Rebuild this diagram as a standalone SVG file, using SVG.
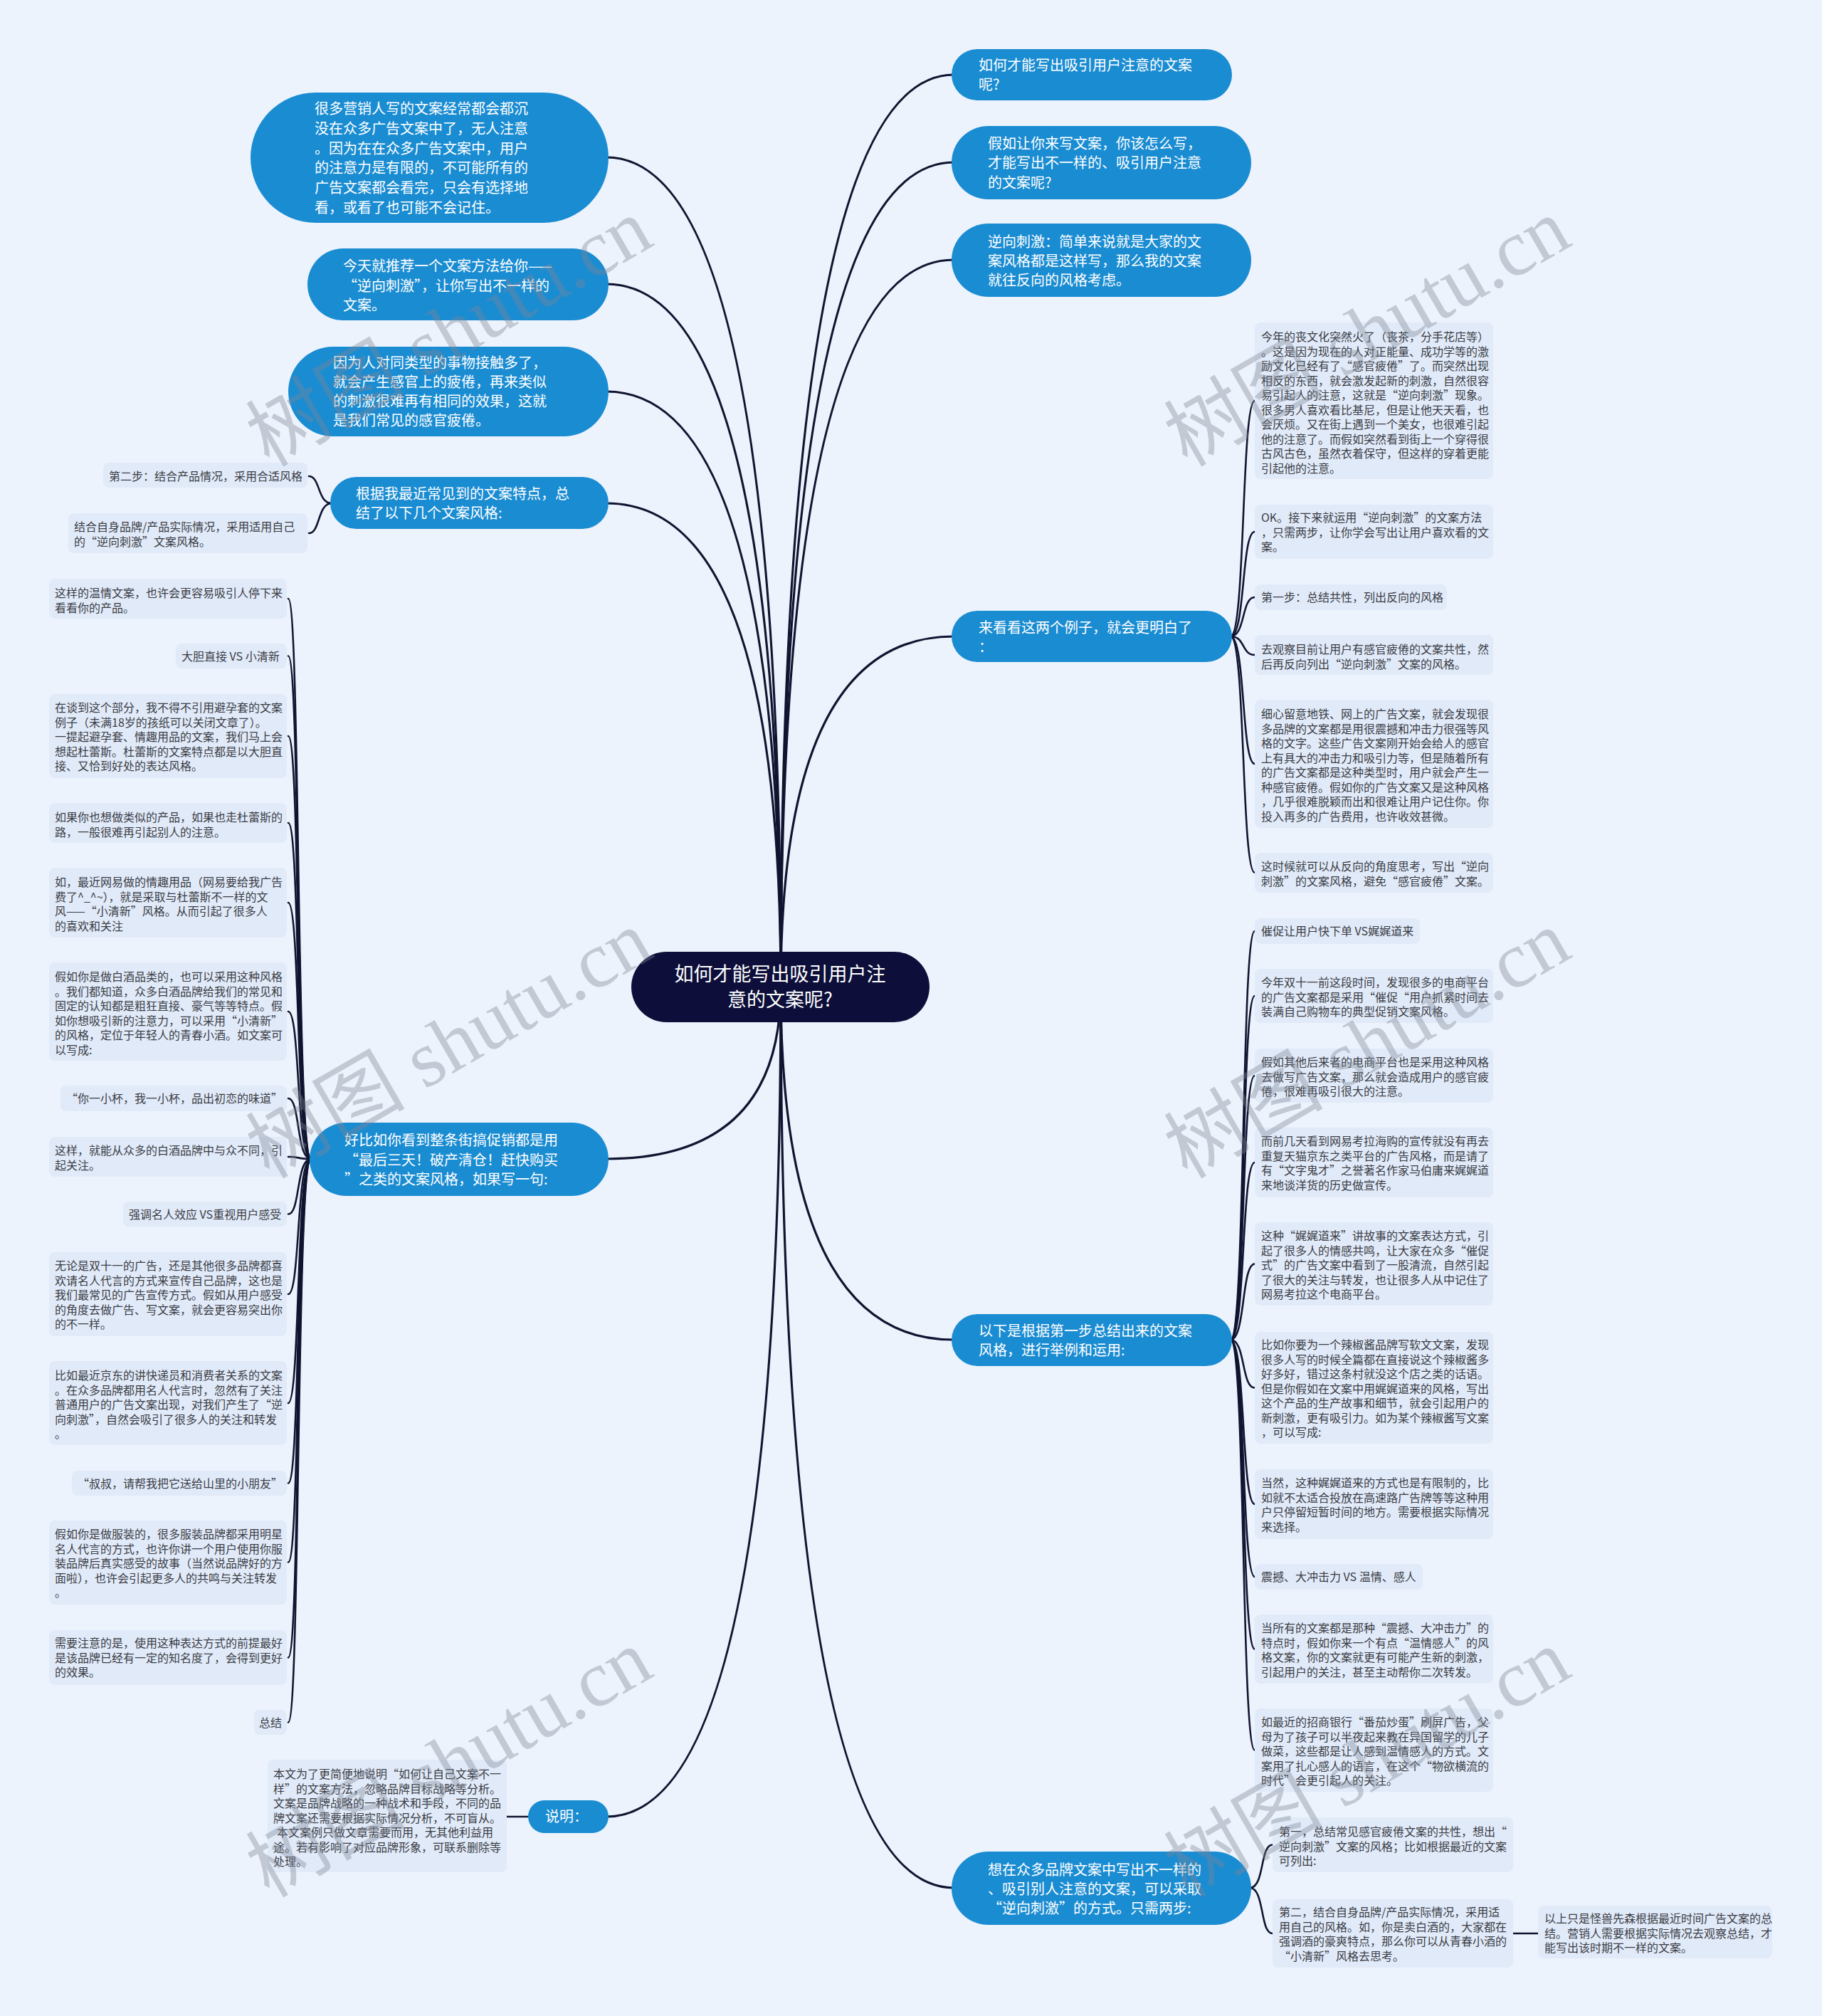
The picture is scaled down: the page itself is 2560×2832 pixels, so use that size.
<svg xmlns="http://www.w3.org/2000/svg" width="2560" height="2832" viewBox="0 0 2560 2832">
<style>
.bg{fill:#edf3fc}
.leaf{fill:#e1eaf9}
.lt{font-family:"Noto Sans CJK SC","Noto Sans",sans-serif;font-size:16px;fill:#3a3d44}
.mn{fill:#1a8cd2}
.mt{font-family:"Noto Sans CJK SC","Noto Sans",sans-serif;font-size:20px;fill:#ffffff}
.cn{fill:#0d0f3a}
.ct{font-family:"Noto Sans CJK SC","Noto Sans",sans-serif;font-size:27px;fill:#ffffff}
.c1{fill:none;stroke:#111430;stroke-width:3.2;stroke-linecap:round}
.c2{fill:none;stroke:#111430;stroke-width:2.6;stroke-linecap:round}
.wm{font-family:"Liberation Serif","Noto Sans CJK SC",serif;font-size:112px;fill:#7f8793;fill-opacity:0.38}
</style>
<rect class="bg" x="0" y="0" width="2560" height="2832"/>

<g id="connectors">
<path class="c1" d="M1097 1387 Q1097 221 852 221"/>
<path class="c1" d="M1097 1387 Q1097 399 852 399"/>
<path class="c1" d="M1097 1387 Q1097 550 852 550"/>
<path class="c1" d="M1097 1387 Q1097 707 852 707"/>
<path class="c1" d="M1097 1387 Q1097 1628 852 1628"/>
<path class="c1" d="M1097 1387 Q1097 2552 852 2552"/>
<path class="c1" d="M1097 1387 Q1097 105 1340 105"/>
<path class="c1" d="M1097 1387 Q1097 228 1340 228"/>
<path class="c1" d="M1097 1387 Q1097 365 1340 365"/>
<path class="c1" d="M1097 1387 Q1097 894 1340 894"/>
<path class="c1" d="M1097 1387 Q1097 1882 1340 1882"/>
<path class="c1" d="M1097 1387 Q1097 2652 1340 2652"/>
<path class="c2" d="M466 707 C446 707 450 669 434 669"/>
<path class="c2" d="M466 707 C446 707 450 749 434 749"/>
<path class="c2" d="M437 1628 C416 1628 422 841 405 841"/>
<path class="c2" d="M437 1628 C416 1628 422 921.5 405 921.5"/>
<path class="c2" d="M437 1628 C416 1628 422 1034 405 1034"/>
<path class="c2" d="M437 1628 C416 1628 422 1156 405 1156"/>
<path class="c2" d="M437 1628 C416 1628 422 1268 405 1268"/>
<path class="c2" d="M437 1628 C416 1628 422 1421 405 1421"/>
<path class="c2" d="M437 1628 C416 1628 422 1543 405 1543"/>
<path class="c2" d="M437 1628 C416 1628 422 1625 405 1625"/>
<path class="c2" d="M437 1628 C416 1628 422 1705.5 405 1705.5"/>
<path class="c2" d="M437 1628 C416 1628 422 1818 405 1818"/>
<path class="c2" d="M437 1628 C416 1628 422 1971 405 1971"/>
<path class="c2" d="M437 1628 C416 1628 422 2083.5 405 2083.5"/>
<path class="c2" d="M437 1628 C416 1628 422 2194.5 405 2194.5"/>
<path class="c2" d="M437 1628 C416 1628 422 2328.5 405 2328.5"/>
<path class="c2" d="M437 1628 C416 1628 422 2419.5 405 2419.5"/>
<path class="c2" d="M742 2552 L712 2552"/>
<path class="c2" d="M1729 894 C1750 894 1744 563 1763 563"/>
<path class="c2" d="M1729 894 C1750 894 1744 747 1763 747"/>
<path class="c2" d="M1729 894 C1750 894 1744 839 1763 839"/>
<path class="c2" d="M1729 894 C1750 894 1744 920 1763 920"/>
<path class="c2" d="M1729 894 C1750 894 1744 1073 1763 1073"/>
<path class="c2" d="M1729 894 C1750 894 1744 1226 1763 1226"/>
<path class="c2" d="M1729 1882 C1750 1882 1744 1308 1763 1308"/>
<path class="c2" d="M1729 1882 C1750 1882 1744 1399 1763 1399"/>
<path class="c2" d="M1729 1882 C1750 1882 1744 1511 1763 1511"/>
<path class="c2" d="M1729 1882 C1750 1882 1744 1633 1763 1633"/>
<path class="c2" d="M1729 1882 C1750 1882 1744 1775.5 1763 1775.5"/>
<path class="c2" d="M1729 1882 C1750 1882 1744 1949.5 1763 1949.5"/>
<path class="c2" d="M1729 1882 C1750 1882 1744 2113 1763 2113"/>
<path class="c2" d="M1729 1882 C1750 1882 1744 2215 1763 2215"/>
<path class="c2" d="M1729 1882 C1750 1882 1744 2316.5 1763 2316.5"/>
<path class="c2" d="M1729 1882 C1750 1882 1744 2458.5 1763 2458.5"/>
<path class="c2" d="M1756 2652 C1777 2652 1770 2591.5 1788 2591.5"/>
<path class="c2" d="M1756 2652 C1777 2652 1770 2716 1788 2716"/>
<path class="c2" d="M2126 2716 L2161 2716"/>
</g>

<g id="center">
<rect class="cn" x="887" y="1337" width="419" height="99" rx="49.5"/>
<text class="ct" text-anchor="middle"><tspan x="1096" y="1378">如何才能写出吸引用户注</tspan><tspan x="1096" y="1414">意的文案呢?</tspan></text>
</g>

<g id="n1">
<rect class="mn" x="352" y="130" width="503" height="183" rx="91.5"/>
<text class="mt"><tspan x="442" y="160">很多营销人写的文案经常都会都沉</tspan><tspan x="442" y="188">没在众多广告文案中了，无人注意</tspan><tspan x="442" y="215.5">。因为在在众多广告文案中，用户</tspan><tspan x="442" y="243">的注意力是有限的，不可能所有的</tspan><tspan x="442" y="271">广告文案都会看完，只会有选择地</tspan><tspan x="442" y="298.5">看，或看了也可能不会记住。</tspan></text>
</g>
<g id="n2">
<rect class="mn" x="432" y="349" width="423" height="101" rx="50.5"/>
<text class="mt"><tspan x="482" y="381">今天就推荐一个文案方法给你——</tspan><tspan x="482" y="408.5">“逆向刺激”，让你写出不一样的</tspan><tspan x="482" y="436">文案。</tspan></text>
</g>
<g id="n3">
<rect class="mn" x="405" y="487" width="450" height="126" rx="63"/>
<text class="mt"><tspan x="468" y="517">因为人对同类型的事物接触多了，</tspan><tspan x="468" y="544">就会产生感官上的疲倦，再来类似</tspan><tspan x="468" y="571">的刺激很难再有相同的效果，这就</tspan><tspan x="468" y="598">是我们常见的感官疲倦。</tspan></text>
</g>
<g id="n4">
<rect class="mn" x="464" y="670" width="391" height="73" rx="36.5"/>
<text class="mt"><tspan x="500" y="701">根据我最近常见到的文案特点，总</tspan><tspan x="500" y="728">结了以下几个文案风格:</tspan></text>
</g>
<g id="n5">
<rect class="mn" x="435" y="1577" width="420" height="103" rx="51.5"/>
<text class="mt"><tspan x="484" y="1609">好比如你看到整条街搞促销都是用</tspan><tspan x="484" y="1637">“最后三天！破产清仓！赶快购买</tspan><tspan x="484" y="1664">”之类的文案风格，如果写一句:</tspan></text>
</g>
<g id="n6">
<rect class="mn" x="742" y="2529" width="113" height="46" rx="23"/>
<text class="mt" text-anchor="middle"><tspan x="796" y="2559">说明：</tspan></text>
</g>

<g id="r1">
<rect class="mn" x="1337" y="69" width="394" height="72" rx="36"/>
<text class="mt"><tspan x="1375" y="99">如何才能写出吸引用户注意的文案</tspan><tspan x="1375" y="126">呢?</tspan></text>
</g>
<g id="r2">
<rect class="mn" x="1337" y="177" width="421" height="103" rx="51.5"/>
<text class="mt"><tspan x="1388" y="209">假如让你来写文案，你该怎么写，</tspan><tspan x="1388" y="236">才能写出不一样的、吸引用户注意</tspan><tspan x="1388" y="264">的文案呢?</tspan></text>
</g>
<g id="r3">
<rect class="mn" x="1337" y="314" width="421" height="103" rx="51.5"/>
<text class="mt"><tspan x="1388" y="347">逆向刺激：简单来说就是大家的文</tspan><tspan x="1388" y="374">案风格都是这样写，那么我的文案</tspan><tspan x="1388" y="401">就往反向的风格考虑。</tspan></text>
</g>
<g id="r4">
<rect class="mn" x="1337" y="858" width="394" height="72" rx="36"/>
<text class="mt"><tspan x="1375" y="889">来看看这两个例子，就会更明白了</tspan><tspan x="1375" y="916">：</tspan></text>
</g>
<g id="r5">
<rect class="mn" x="1337" y="1846" width="394" height="73" rx="36.5"/>
<text class="mt"><tspan x="1375" y="1877">以下是根据第一步总结出来的文案</tspan><tspan x="1375" y="1904">风格，进行举例和运用:</tspan></text>
</g>
<g id="r6">
<rect class="mn" x="1337" y="2601" width="421" height="103" rx="51.5"/>
<text class="mt"><tspan x="1388" y="2634">想在众多品牌文案中写出不一样的</tspan><tspan x="1388" y="2661">、吸引别人注意的文案，可以采取</tspan><tspan x="1388" y="2688">“逆向刺激”的方式。只需两步:</tspan></text>
</g>

<g id="l4a"><rect class="leaf" x="145" y="650" width="287" height="35" rx="8"/><text class="lt"><tspan x="153" y="675">第二步：结合产品情况，采用合适风格</tspan></text></g>
<g id="l4b"><rect class="leaf" x="96" y="721" width="336" height="56" rx="8"/><text class="lt"><tspan x="104" y="746">结合自身品牌/产品实际情况，采用适用自己</tspan><tspan x="104" y="766.5">的“逆向刺激”文案风格。</tspan></text></g>

<g id="l1"><rect class="leaf" x="69" y="813" width="334" height="56" rx="8"/><text class="lt"><tspan x="77" y="839">这样的温情文案，也许会更容易吸引人停下来</tspan><tspan x="77" y="859.5">看看你的产品。</tspan></text></g>
<g id="l2"><rect class="leaf" x="247" y="904" width="156" height="35" rx="8"/><text class="lt"><tspan x="255" y="928">大胆直接 VS 小清新</tspan></text></g>
<g id="l3"><rect class="leaf" x="69" y="975" width="334" height="118" rx="8"/><text class="lt"><tspan x="77" y="1000">在谈到这个部分，我不得不引用避孕套的文案</tspan><tspan x="77" y="1020.5">例子（未满18岁的孩纸可以关闭文章了）。</tspan><tspan x="77" y="1041">一提起避孕套、情趣用品的文案，我们马上会</tspan><tspan x="77" y="1061.5">想起杜蕾斯。杜蕾斯的文案特点都是以大胆直</tspan><tspan x="77" y="1082">接、又恰到好处的表达风格。</tspan></text></g>
<g id="l4"><rect class="leaf" x="69" y="1128" width="334" height="56" rx="8"/><text class="lt"><tspan x="77" y="1154">如果你也想做类似的产品，如果也走杜蕾斯的</tspan><tspan x="77" y="1174.5">路，一般很难再引起别人的注意。</tspan></text></g>
<g id="l5"><rect class="leaf" x="69" y="1219" width="334" height="98" rx="8"/><text class="lt"><tspan x="77" y="1245">如，最近网易做的情趣用品（网易要给我广告</tspan><tspan x="77" y="1265.5">费了^_^~），就是采取与杜蕾斯不一样的文</tspan><tspan x="77" y="1286">风——“小清新”风格。从而引起了很多人</tspan><tspan x="77" y="1306.5">的喜欢和关注</tspan></text></g>
<g id="l6"><rect class="leaf" x="69" y="1352" width="334" height="138" rx="8"/><text class="lt"><tspan x="77" y="1378">假如你是做白酒品类的，也可以采用这种风格</tspan><tspan x="77" y="1398.5">。我们都知道，众多白酒品牌给我们的常见和</tspan><tspan x="77" y="1419">固定的认知都是粗狂直接、豪气等等特点。假</tspan><tspan x="77" y="1439.5">如你想吸引新的注意力，可以采用“小清新”</tspan><tspan x="77" y="1460">的风格，定位于年轻人的青春小酒。如文案可</tspan><tspan x="77" y="1480.5">以写成:</tspan></text></g>
<g id="l7"><rect class="leaf" x="85" y="1525" width="318" height="36" rx="8"/><text class="lt"><tspan x="93" y="1549">“你一小杯，我一小杯，品出初恋的味道”</tspan></text></g>
<g id="l8"><rect class="leaf" x="69" y="1597" width="334" height="56" rx="8"/><text class="lt"><tspan x="77" y="1622">这样，就能从众多的白酒品牌中与众不同，引</tspan><tspan x="77" y="1642.5">起关注。</tspan></text></g>
<g id="l9"><rect class="leaf" x="173" y="1688" width="230" height="35" rx="8"/><text class="lt"><tspan x="181" y="1712">强调名人效应 VS重视用户感受</tspan></text></g>
<g id="l10"><rect class="leaf" x="69" y="1759" width="334" height="118" rx="8"/><text class="lt"><tspan x="77" y="1784">无论是双十一的广告，还是其他很多品牌都喜</tspan><tspan x="77" y="1804.5">欢请名人代言的方式来宣传自己品牌，这也是</tspan><tspan x="77" y="1825">我们最常见的广告宣传方式。假如从用户感受</tspan><tspan x="77" y="1845.5">的角度去做广告、写文案，就会更容易突出你</tspan><tspan x="77" y="1866">的不一样。</tspan></text></g>
<g id="l11"><rect class="leaf" x="69" y="1912" width="334" height="118" rx="8"/><text class="lt"><tspan x="77" y="1938">比如最近京东的讲快递员和消费者关系的文案</tspan><tspan x="77" y="1958.5">。在众多品牌都用名人代言时，忽然有了关注</tspan><tspan x="77" y="1979">普通用户的广告文案出现，对我们产生了“逆</tspan><tspan x="77" y="1999.5">向刺激”，自然会吸引了很多人的关注和转发</tspan><tspan x="77" y="2020">。</tspan></text></g>
<g id="l12"><rect class="leaf" x="101" y="2066" width="302" height="35" rx="8"/><text class="lt"><tspan x="109" y="2090">“叔叔，请帮我把它送给山里的小朋友”</tspan></text></g>
<g id="l13"><rect class="leaf" x="69" y="2136" width="334" height="118" rx="8"/><text class="lt"><tspan x="77" y="2161">假如你是做服装的，很多服装品牌都采用明星</tspan><tspan x="77" y="2181.5">名人代言的方式，也许你讲一个用户使用你服</tspan><tspan x="77" y="2202">装品牌后真实感受的故事（当然说品牌好的方</tspan><tspan x="77" y="2222.5">面啦），也许会引起更多人的共鸣与关注转发</tspan><tspan x="77" y="2243">。</tspan></text></g>
<g id="l14"><rect class="leaf" x="69" y="2290" width="334" height="77" rx="8"/><text class="lt"><tspan x="77" y="2314">需要注意的是，使用这种表达方式的前提最好</tspan><tspan x="77" y="2334.5">是该品牌已经有一定的知名度了，会得到更好</tspan><tspan x="77" y="2355">的效果。</tspan></text></g>
<g id="l15"><rect class="leaf" x="357" y="2402" width="46" height="35" rx="8"/><text class="lt"><tspan x="364" y="2426">总结</tspan></text></g>

<g id="ls"><rect class="leaf" x="376" y="2472" width="336" height="158" rx="8"/><text class="lt"><tspan x="384" y="2498">本文为了更简便地说明“如何让自己文案不一</tspan><tspan x="384" y="2518.5">样”的文案方法，忽略品牌目标战略等分析。</tspan><tspan x="384" y="2539">文案是品牌战略的一种战术和手段，不同的品</tspan><tspan x="384" y="2559.5">牌文案还需要根据实际情况分析，不可盲从。</tspan><tspan x="389" y="2580">本文案例只做文章需要而用，无其他利益用</tspan><tspan x="384" y="2600.5">途。若有影响了对应品牌形象，可联系删除等</tspan><tspan x="384" y="2621">处理。</tspan></text></g>

<g id="r4a"><rect class="leaf" x="1763" y="453" width="335" height="220" rx="8"/><text class="lt"><tspan x="1772" y="479">今年的丧文化突然火了（丧茶，分手花店等）</tspan><tspan x="1772" y="499.5">。这是因为现在的人对正能量、成功学等的激</tspan><tspan x="1772" y="520">励文化已经有了“感官疲倦”了。而突然出现</tspan><tspan x="1772" y="540.5">相反的东西，就会激发起新的刺激，自然很容</tspan><tspan x="1772" y="561">易引起人的注意，这就是“逆向刺激”现象。</tspan><tspan x="1772" y="581.5">很多男人喜欢看比基尼，但是让他天天看，也</tspan><tspan x="1772" y="602">会厌烦。又在街上遇到一个美女，也很难引起</tspan><tspan x="1772" y="622.5">他的注意了。而假如突然看到街上一个穿得很</tspan><tspan x="1772" y="643">古风古色，虽然衣着保守，但这样的穿着更能</tspan><tspan x="1772" y="663.5">引起他的注意。</tspan></text></g>
<g id="r4b"><rect class="leaf" x="1763" y="709" width="335" height="76" rx="8"/><text class="lt"><tspan x="1772" y="733">OK。接下来就运用“逆向刺激”的文案方法</tspan><tspan x="1772" y="753.5">，只需两步，让你学会写出让用户喜欢看的文</tspan><tspan x="1772" y="774">案。</tspan></text></g>
<g id="r4c"><rect class="leaf" x="1763" y="821" width="270" height="36" rx="8"/><text class="lt"><tspan x="1772" y="845">第一步：总结共性，列出反向的风格</tspan></text></g>
<g id="r4d"><rect class="leaf" x="1763" y="892" width="335" height="56" rx="8"/><text class="lt"><tspan x="1772" y="918">去观察目前让用户有感官疲倦的文案共性，然</tspan><tspan x="1772" y="938.5">后再反向列出“逆向刺激”文案的风格。</tspan></text></g>
<g id="r4e"><rect class="leaf" x="1763" y="983" width="335" height="180" rx="8"/><text class="lt"><tspan x="1772" y="1009">细心留意地铁、网上的广告文案，就会发现很</tspan><tspan x="1772" y="1029.5">多品牌的文案都是用很震撼和冲击力很强等风</tspan><tspan x="1772" y="1050">格的文字。这些广告文案刚开始会给人的感官</tspan><tspan x="1772" y="1070.5">上有具大的冲击力和吸引力等，但是随着所有</tspan><tspan x="1772" y="1091">的广告文案都是这种类型时，用户就会产生一</tspan><tspan x="1772" y="1111.5">种感官疲倦。假如你的广告文案又是这种风格</tspan><tspan x="1772" y="1132">，几乎很难脱颖而出和很难让用户记住你。你</tspan><tspan x="1772" y="1152.5">投入再多的广告费用，也许收效甚微。</tspan></text></g>
<g id="r4f"><rect class="leaf" x="1763" y="1198" width="335" height="56" rx="8"/><text class="lt"><tspan x="1772" y="1223">这时候就可以从反向的角度思考，写出“逆向</tspan><tspan x="1772" y="1243.5">刺激”的文案风格，避免“感官疲倦”文案。</tspan></text></g>

<g id="r5a"><rect class="leaf" x="1763" y="1290" width="232" height="36" rx="8"/><text class="lt"><tspan x="1772" y="1314">催促让用户快下单 VS娓娓道来</tspan></text></g>
<g id="r5b"><rect class="leaf" x="1763" y="1361" width="335" height="76" rx="8"/><text class="lt"><tspan x="1772" y="1386">今年双十一前这段时间，发现很多的电商平台</tspan><tspan x="1772" y="1406.5">的广告文案都是采用“催促“用户抓紧时间去</tspan><tspan x="1772" y="1427">装满自己购物车的典型促销文案风格。</tspan></text></g>
<g id="r5c"><rect class="leaf" x="1763" y="1473" width="335" height="76" rx="8"/><text class="lt"><tspan x="1772" y="1498">假如其他后来者的电商平台也是采用这种风格</tspan><tspan x="1772" y="1518.5">去做写广告文案，那么就会造成用户的感官疲</tspan><tspan x="1772" y="1539">倦，很难再吸引很大的注意。</tspan></text></g>
<g id="r5d"><rect class="leaf" x="1763" y="1584" width="335" height="98" rx="8"/><text class="lt"><tspan x="1772" y="1609">而前几天看到网易考拉海购的宣传就没有再去</tspan><tspan x="1772" y="1629.5">重复天猫京东之类平台的广告风格，而是请了</tspan><tspan x="1772" y="1650">有“文字鬼才”之誉著名作家马伯庸来娓娓道</tspan><tspan x="1772" y="1670.5">来地谈洋货的历史做宣传。</tspan></text></g>
<g id="r5e"><rect class="leaf" x="1763" y="1717" width="335" height="117" rx="8"/><text class="lt"><tspan x="1772" y="1742">这种“娓娓道来”讲故事的文案表达方式，引</tspan><tspan x="1772" y="1762.5">起了很多人的情感共鸣，让大家在众多“催促</tspan><tspan x="1772" y="1783">式”的广告文案中看到了一股清流，自然引起</tspan><tspan x="1772" y="1803.5">了很大的关注与转发，也让很多人从中记住了</tspan><tspan x="1772" y="1824">网易考拉这个电商平台。</tspan></text></g>
<g id="r5f"><rect class="leaf" x="1763" y="1871" width="335" height="157" rx="8"/><text class="lt"><tspan x="1772" y="1895">比如你要为一个辣椒酱品牌写软文文案，发现</tspan><tspan x="1772" y="1915.5">很多人写的时候全篇都在直接说这个辣椒酱多</tspan><tspan x="1772" y="1936">好多好，错过这条村就没这个店之类的话语。</tspan><tspan x="1772" y="1956.5">但是你假如在文案中用娓娓道来的风格，写出</tspan><tspan x="1772" y="1977">这个产品的生产故事和细节，就会引起用户的</tspan><tspan x="1772" y="1997.5">新刺激，更有吸引力。如为某个辣椒酱写文案</tspan><tspan x="1772" y="2018">，可以写成:</tspan></text></g>
<g id="r5g"><rect class="leaf" x="1763" y="2064" width="335" height="98" rx="8"/><text class="lt"><tspan x="1772" y="2089">当然，这种娓娓道来的方式也是有限制的，比</tspan><tspan x="1772" y="2109.5">如就不太适合投放在高速路广告牌等等这种用</tspan><tspan x="1772" y="2130">户只停留短暂时间的地方。需要根据实际情况</tspan><tspan x="1772" y="2150.5">来选择。</tspan></text></g>
<g id="r5h"><rect class="leaf" x="1763" y="2197" width="236" height="36" rx="8"/><text class="lt"><tspan x="1772" y="2221">震撼、大冲击力 VS 温情、感人</tspan></text></g>
<g id="r5i"><rect class="leaf" x="1763" y="2268" width="335" height="97" rx="8"/><text class="lt"><tspan x="1772" y="2293">当所有的文案都是那种“震撼、大冲击力”的</tspan><tspan x="1772" y="2313.5">特点时，假如你来一个有点“温情感人”的风</tspan><tspan x="1772" y="2334">格文案，你的文案就更有可能产生新的刺激，</tspan><tspan x="1772" y="2354.5">引起用户的关注，甚至主动帮你二次转发。</tspan></text></g>
<g id="r5j"><rect class="leaf" x="1763" y="2400" width="335" height="117" rx="8"/><text class="lt"><tspan x="1772" y="2425">如最近的招商银行“番茄炒蛋”刷屏广告，父</tspan><tspan x="1772" y="2445.5">母为了孩子可以半夜起来教在异国留学的儿子</tspan><tspan x="1772" y="2466">做菜，这些都是让人感到温情感人的方式。文</tspan><tspan x="1772" y="2486.5">案用了扎心感人的语言，在这个“物欲横流的</tspan><tspan x="1772" y="2507">时代”会更引起人的关注。</tspan></text></g>

<g id="r6a"><rect class="leaf" x="1788" y="2553" width="338" height="77" rx="8"/><text class="lt"><tspan x="1797" y="2579">第一，总结常见感官疲倦文案的共性，想出“</tspan><tspan x="1797" y="2599.5">逆向刺激”文案的风格；比如根据最近的文案</tspan><tspan x="1797" y="2620">可列出:</tspan></text></g>
<g id="r6b"><rect class="leaf" x="1788" y="2668" width="338" height="96" rx="8"/><text class="lt"><tspan x="1797" y="2692">第二，结合自身品牌/产品实际情况，采用适</tspan><tspan x="1797" y="2712.5">用自己的风格。如，你是卖白酒的，大家都在</tspan><tspan x="1797" y="2733">强调酒的豪爽特点，那么你可以从青春小酒的</tspan><tspan x="1797" y="2753.5">“小清新”风格去思考。</tspan></text></g>
<g id="r6g"><rect class="leaf" x="2161" y="2677" width="329" height="74" rx="8"/><text class="lt"><tspan x="2170" y="2701">以上只是怪兽先森根据最近时间广告文案的总</tspan><tspan x="2170" y="2721.5">结。营销人需要根据实际情况去观察总结，才</tspan><tspan x="2170" y="2742">能写出该时期不一样的文案。</tspan></text></g>

<g id="watermarks">
<text class="wm" text-anchor="middle" transform="translate(650 500) rotate(-30)">树图 shutu.cn</text>
<text class="wm" text-anchor="middle" transform="translate(1940 500) rotate(-30)">树图 shutu.cn</text>
<text class="wm" text-anchor="middle" transform="translate(650 1500) rotate(-30)">树图 shutu.cn</text>
<text class="wm" text-anchor="middle" transform="translate(1940 1500) rotate(-30)">树图 shutu.cn</text>
<text class="wm" text-anchor="middle" transform="translate(650 2510) rotate(-30)">树图 shutu.cn</text>
<text class="wm" text-anchor="middle" transform="translate(1940 2510) rotate(-30)">树图 shutu.cn</text>
</g>
</svg>
